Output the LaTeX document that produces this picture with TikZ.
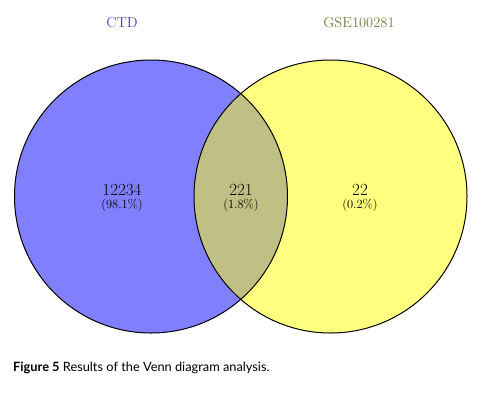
\documentclass[tikz,border=0pt]{standalone}
\usepackage{fontspec}
\newfontfamily\capfont{Lato}
\usepackage{xcolor}
\usetikzlibrary{positioning}
\definecolor{ctdfill}{HTML}{8080FF}
\definecolor{gsefill}{HTML}{FFFF80}
\definecolor{bothfill}{HTML}{C0C084}
\definecolor{ctdtext}{HTML}{4040DC}
\definecolor{gsetext}{HTML}{7C7C3C}

\begin{document}
\begin{tikzpicture}[x=1pt,y=-1pt,
                every node/.style={inner sep=0pt},
                setname/.style={font=\fontsize{14.5}{14.5}\selectfont},
                count/.style={font=\fontsize{17}{17}\selectfont},
                share/.style={font=\fontsize{12.5}{12.5}\selectfont,below=3pt}]
             \useasboundingbox[fill=white] (0,0) rectangle (487,397);
             \coordinate (ctd) at (151,196.5);
             \coordinate (gse) at (330.5,196.5);
             % the two sets
             \fill[ctdfill] (ctd) circle (136.5);
             \fill[gsefill] (gse) circle (136.5);
             \begin{scope}
                 \clip (ctd) circle (136.5);
                 \fill[bothfill] (gse) circle (136.5);
             \end{scope}
             \draw[line width=1pt] (ctd) circle (136.5);
             \draw[line width=1pt] (gse) circle (136.5);
             % set names
             \node[setname,text=ctdtext] (ctdname) at (122,23) {CTD};
             \node[setname,text=gsetext] (gsename) at (359,23) {GSE100281};
             % counts
             \node[count] (onlyctd) at (122,190) {12234};
             \node[share] (onlyctdp) at (onlyctd.south) {(98.1\%)};
             \node[count] (inboth) at (241,190) {221};
             \node[share] (inbothp) at (inboth.south) {(1.8\%)};
             \node[count] (onlygse) at (360,190) {22};
             \node[share] (onlygsep) at (onlygse.south) {(0.2\%)};
             % caption
             \node[anchor=west,font=\capfont\fontsize{12.8}{12.8}\selectfont] (caption) at (13,368)
                 {\textbf{Figure 5} Results of the Venn diagram analysis.};
             \end{tikzpicture}
\end{document}
